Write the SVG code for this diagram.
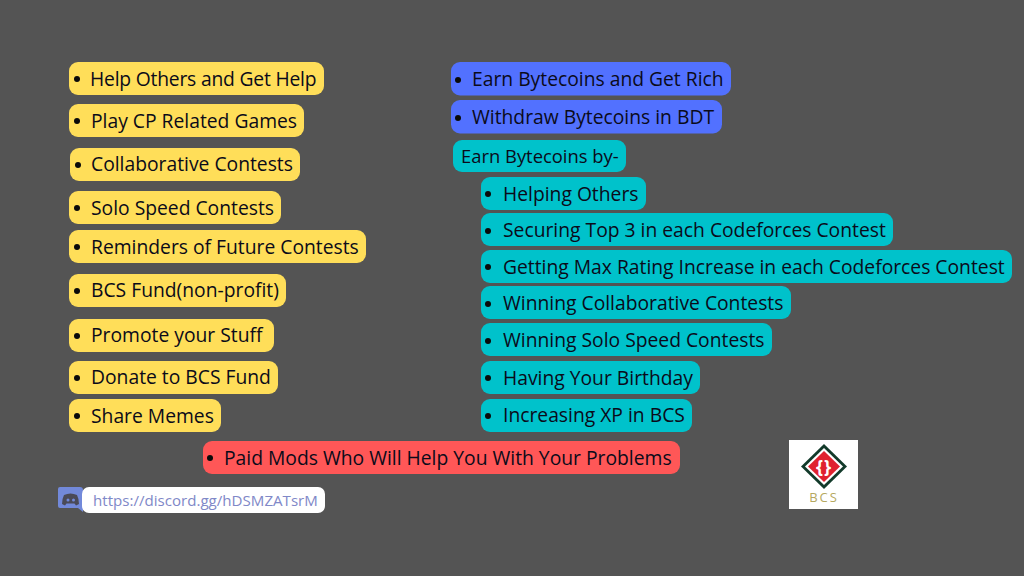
<svg xmlns="http://www.w3.org/2000/svg" width="1024" height="576" viewBox="0 0 1024 576">
<style>
text{font-family:"Open Sans","Noto Sans","Liberation Sans",sans-serif;font-size:19.3px;fill:#0b0b1a}
.y{fill:#ffde59}.b{fill:#5271ff}.t{fill:#00c2cb}.r{fill:#ff5757}
.d{fill:#0a0a0a}
</style>
<rect width="1024" height="576" fill="#545454"/>
<g id="n1"><rect class="y" x="69" y="62" width="255" height="33" rx="9"/><circle class="d" cx="77" cy="79" r="3"/><text x="90" y="86" style="letter-spacing:-0.2px">Help Others and Get Help</text></g>
<g id="n2"><rect class="y" x="69" y="104" width="235" height="33" rx="9"/><circle class="d" cx="77" cy="121" r="3"/><text x="91" y="128">Play CP Related Games</text></g>
<g id="n3"><rect class="y" x="70" y="148" width="230" height="33" rx="9"/><circle class="d" cx="78" cy="165" r="3"/><text x="91" y="171">Collaborative Contests</text></g>
<g id="n4"><rect class="y" x="69" y="191" width="212" height="33" rx="9"/><circle class="d" cx="77" cy="208" r="3"/><text x="91" y="215">Solo Speed Contests</text></g>
<g id="n5"><rect class="y" x="69" y="230" width="297" height="33" rx="9"/><circle class="d" cx="77" cy="247" r="3"/><text x="91" y="254">Reminders of Future Contests</text></g>
<g id="n6"><rect class="y" x="69" y="274" width="217" height="33" rx="9"/><circle class="d" cx="77" cy="291" r="3"/><text x="91" y="297">BCS Fund(non-profit)</text></g>
<g id="n7"><rect class="y" x="69" y="319" width="205" height="33" rx="9"/><circle class="d" cx="77" cy="336" r="3"/><text x="91" y="342">Promote your Stuff</text></g>
<g id="n8"><rect class="y" x="69" y="361" width="209" height="33" rx="9"/><circle class="d" cx="77" cy="378" r="3"/><text x="91" y="384">Donate to BCS Fund</text></g>
<g id="n9"><rect class="y" x="69" y="399" width="152" height="33" rx="9"/><circle class="d" cx="77" cy="416" r="3"/><text x="91" y="423">Share Memes</text></g>
<g id="n10"><rect class="b" x="451" y="62" width="280" height="33.500" rx="9"/><circle class="d" cx="458" cy="80" r="3"/><text x="472" y="86">Earn Bytecoins and Get Rich</text></g>
<g id="n11"><rect class="b" x="451" y="100" width="271" height="33.500" rx="9"/><circle class="d" cx="458" cy="118" r="3"/><text x="472" y="124">Withdraw Bytecoins in BDT</text></g>
<g id="n12"><rect class="t" x="453" y="140" width="173" height="32" rx="9"/><text x="461" y="163" style="font-size:18.400px">Earn Bytecoins by-</text></g>
<g id="n13"><rect class="t" x="481" y="177" width="165" height="33" rx="9"/><circle class="d" cx="488" cy="194" r="3"/><text x="503" y="201">Helping Others</text></g>
<g id="n14"><rect class="t" x="481" y="213" width="412" height="33" rx="9"/><circle class="d" cx="488" cy="231" r="3"/><text x="503" y="237">Securing Top 3 in each Codeforces Contest</text></g>
<g id="n15"><rect class="t" x="481" y="250" width="531" height="33" rx="9"/><circle class="d" cx="488" cy="267" r="3"/><text x="503" y="274">Getting Max Rating Increase in each Codeforces Contest</text></g>
<g id="n16"><rect class="t" x="481" y="286" width="310" height="33" rx="9"/><circle class="d" cx="488" cy="304" r="3"/><text x="503" y="310">Winning Collaborative Contests</text></g>
<g id="n17"><rect class="t" x="481" y="323" width="291" height="33" rx="9"/><circle class="d" cx="488" cy="341" r="3"/><text x="503" y="347">Winning Solo Speed Contests</text></g>
<g id="n18"><rect class="t" x="481" y="361" width="219" height="33" rx="9"/><circle class="d" cx="488" cy="378" r="3"/><text x="503" y="385">Having Your Birthday</text></g>
<g id="n19"><rect class="t" x="481" y="399" width="211" height="33" rx="9"/><circle class="d" cx="488" cy="416" r="3"/><text x="503" y="422">Increasing XP in BCS</text></g>
<g id="n20"><rect class="r" x="203" y="441" width="477" height="33" rx="9"/><circle class="d" cx="210" cy="458" r="3"/><text x="224" y="465">Paid Mods Who Will Help You With Your Problems</text></g>
<g id="discord">
<path d="M60 487H80a3 3 0 0 1 3 3V512L78 508H60a2 2 0 0 1-2-2V489a2 2 0 0 1 2-2Z" fill="#7289da"/>
<path d="M64 495q6.500-3 13 0q2 4 2 9l-3 1.500l-1.500-2h-8l-1.500 2l-3-1.500q0-5 2-9Z" fill="#4a4a58"/>
<circle cx="68" cy="500" r="1.500" fill="#7289da"/><circle cx="73.500" cy="500" r="1.500" fill="#7289da"/>
<rect x="82" y="487" width="243" height="26" rx="7" fill="#fff"/>
<text x="93" y="506" style="font-size:15.100px;fill:#8088c8">https://discord.gg/hDSMZATsrM</text>
</g>
<g id="logo">
<rect x="789" y="440" width="69" height="69" fill="#fff"/>
<path d="M824 444L847 466.500L824 489L801 466.500Z" fill="#123a2a"/>
<path d="M824 448L843 466.500L824 485L805 466.500Z" fill="#fff"/>
<path d="M824 451L840 466.500L824 482L808 466.500Z" fill="#e0222f"/>
<text x="824" y="473" text-anchor="middle" style="font-size:18px;fill:#fff;font-weight:700;letter-spacing:1px">{}</text>
<text x="824" y="502" text-anchor="middle" style="font-size:13px;fill:#b5a860;letter-spacing:2px">BCS</text>
</g>
</svg>
